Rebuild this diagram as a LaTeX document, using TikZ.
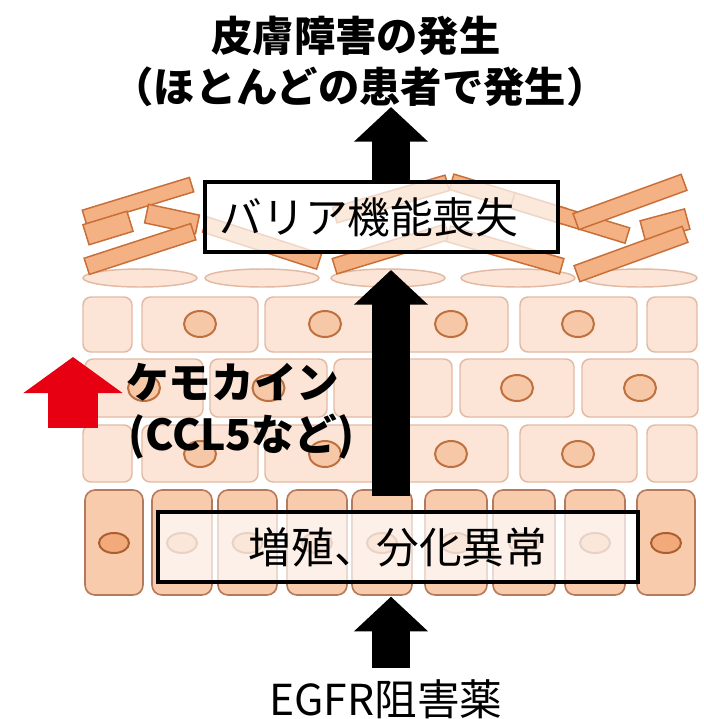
\documentclass[tikz,border=0pt]{standalone}
\usepackage{fontspec}
\setmainfont{Noto Sans CJK JP}
\usetikzlibrary{arrows.meta}
\definecolor{cellfill}{RGB}{252,229,214}
\definecolor{cellline}{RGB}{226,186,164}
\definecolor{nucfill}{RGB}{247,200,168}
\definecolor{nucline}{RGB}{190,112,62}
\definecolor{basalfill}{RGB}{248,203,173}
\definecolor{basalline}{RGB}{180,122,92}
\definecolor{basalnucfill}{RGB}{242,170,122}
\definecolor{basalnucline}{RGB}{170,95,50}
\definecolor{corneofill}{RGB}{244,177,131}
\definecolor{corneoline}{RGB}{200,110,55}
\definecolor{alert}{RGB}{230,0,18}

\begin{document}
\begin{tikzpicture}[x=0.75pt, y=-0.75pt,
  cell/.style={draw=cellline, fill=cellfill, line width=1.1pt, rounded corners=6pt},
  nucleus/.style={draw=nucline, fill=nucfill, line width=1.5pt},
  basal/.style={draw=basalline, fill=basalfill, line width=1.2pt, rounded corners=7.5pt},
  basalnuc/.style={draw=basalnucline, fill=basalnucfill, line width=1.5pt},
  corneo/.style={draw=corneoline, fill=corneofill, line width=1.1pt},
  labelbox/.style={draw=black, line width=3pt, fill=white, fill opacity=0.72, text opacity=1,
    outer sep=0pt, inner sep=0pt, font=\fontsize{32}{38}\selectfont},
  blockarrow/.style={line width=28pt, -{Triangle[width=54pt, length=26pt]}},
  redarrow/.style={alert, line width=37pt, -{Triangle[width=73pt, length=27pt]}},
  bigtext/.style={inner sep=0pt, font=\fontsize{32}{38}\selectfont},
  titletext/.style={inner sep=0pt, font=\fontsize{31}{37}\selectfont\bfseries}]

  \useasboundingbox (0,0) rectangle (704,719);
  \fill[white] (0,0) rectangle (704,719);

  % Title
  \node[titletext] (title) at (356,36) {皮膚障害の発生};
  \node[titletext] (note) at (360,87) {（ほとんどの患者で発生）};

  % Spinous layer: rows 1 and 3 share the same cells
  \foreach \xa/\xb in {83/132, 142/258, 265/385, 393/508, 520/637, 647/697} {
    \draw[cell] (\xa,297) rectangle (\xb,352);
    \draw[cell] (\xa,425) rectangle (\xb,482);
  }
  \foreach \x in {200, 325, 451, 578} {
    \draw[nucleus] (\x,324) ellipse [x radius=16, y radius=13];
    \draw[nucleus] (\x,454) ellipse [x radius=16, y radius=13];
  }
  % Spinous layer: shifted row 2
  \foreach \xa/\xb in {85/203, 210/327, 334/452, 460/574, 582/698} {
    \draw[cell] (\xa,359) rectangle (\xb,417);
    \draw[nucleus] ({(\xa+\xb)/2},388) ellipse [x radius=16, y radius=13];
  }

  % Basal layer
  \foreach \xa/\xb in {85/143, 152/212, 218/277, 287/347, 352/412, 425/487, 493/555, 565/625, 637/695} {
    \draw[basal] (\xa,490) rectangle (\xb,595);
    \draw[basalnuc] ({(\xa+\xb)/2},543) ellipse [x radius=15, y radius=10];
  }

  % Granular layer (flat cells)
  \foreach \x in {140, 262, 388, 518, 640}
    \draw[cell, rounded corners=0pt] (\x,278) ellipse [x radius=57, y radius=9];

  % Cornified layer: centre x / centre y / length / thickness / angle
  \foreach \cx/\cy/\len/\wd/\ang in {138/201/112/15/17, 108/228/46/21/17, 172/219/52/19/-12,
      140/249/112/17/18, 262/243/120/16/-18, 391/249/118/16/17, 391/199/117/16/16,
      508/199/118/16/-17, 505/250/118/16/-16, 570/218/120/16/-17,
      630/202/115/17/20, 665/225/46/21/15, 631/254/115/17/20}
    \draw[corneo, shift={(\cx,\cy)}, rotate=\ang] (-\len/2,-\wd/2) rectangle (\len/2,\wd/2);

  % Boxes
  \node[labelbox, anchor=west, text width=243pt, align=left, inner xsep=11pt,
    minimum height=52.5pt] (barrier) at (205,217) {バリア機能喪失};
  \node[labelbox, minimum width=360pt, minimum height=52.5pt] (prolif) at (398,547) {増殖、分化異常};

  % Arrows
  \coordinate (axis) at (391,0);
  \coordinate (outcome) at (391,107);
  \coordinate (drug) at (391,668);
  \draw[blockarrow] (axis |- barrier.north) -- (outcome);
  \draw[blockarrow, shorten <=12pt, shorten >=13.5pt] (axis |- prolif.north) -- (axis |- barrier.south);
  \draw[blockarrow, shorten >=11pt] (drug) -- (axis |- prolif.south);

  % Chemokine up
  \coordinate (rise) at (73,428);
  \coordinate (risetip) at (73,357);
  \draw[redarrow] (rise) -- (risetip);
  \node[bigtext, font=\fontsize{32}{38}\selectfont\bfseries, anchor=west] (chemokine) at (126,382) {ケモカイン};
  \node[bigtext, font=\fontsize{32}{38}\selectfont\bfseries, anchor=west] (ccl) at (128,437) {(CCL5など)};

  % Drug
  \node[bigtext] (egfr) at (386,699) {EGFR阻害薬};

\end{tikzpicture}
\end{document}
